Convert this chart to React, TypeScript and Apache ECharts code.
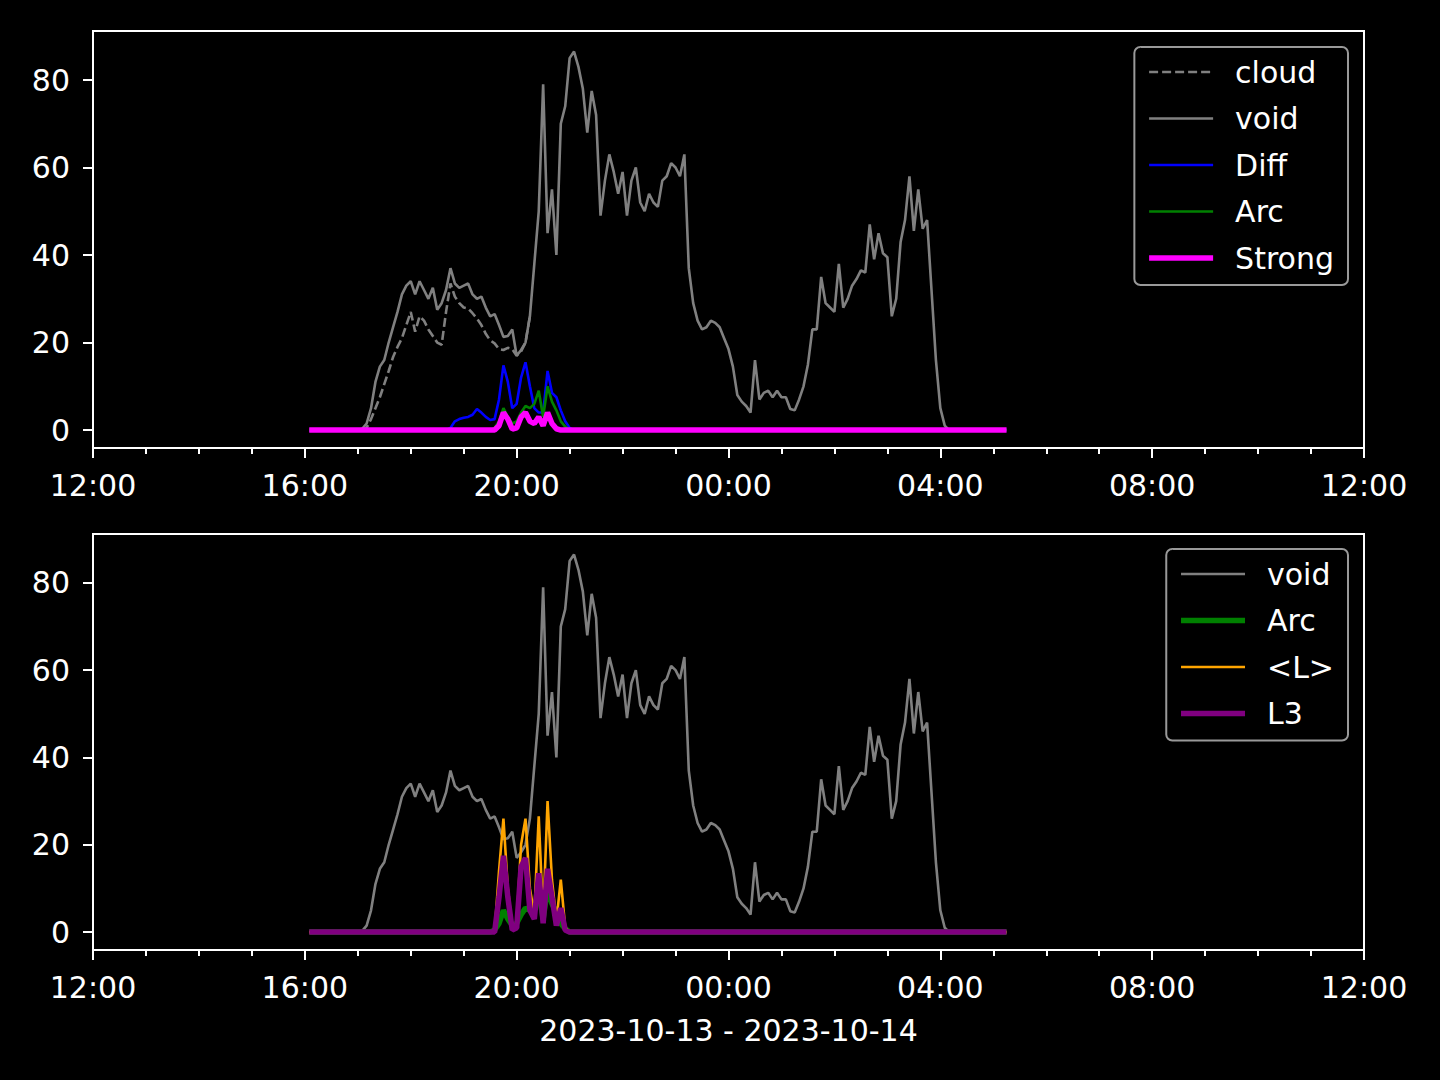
import React, { useEffect, useRef } from "react";
import * as echarts from "echarts";

// Sampling grid: 5-minute samples starting 2023-10-13 16:05
const sampleStartMinutes = 16 * 60 + 5;
const sampleStepMinutes = 5;
const axisStartMinutes = 12 * 60;

const xTickLabels = ["12:00", "16:00", "20:00", "00:00", "04:00", "08:00", "12:00"];
const yTickValues = [0, 20, 40, 60, 80];
const dateLabel = "2023-10-13 - 2023-10-14";

const voidValues = [
  0, 0, 0, 0, 0, 0, 0, 0, 0, 0, 0, 0,
  0.3, 1.5, 5, 11, 14.5, 16, 20, 23.5, 27, 31, 33, 34, 31, 34, 32, 30, 32.5, 27.5,
  29, 32, 37, 33.5, 32.5, 33, 33.5, 31, 30, 30.5, 28, 26, 26.5, 24, 21.3, 21.5, 23, 17, 18.3, 20,
  26, 38, 50, 79, 45, 55, 40, 70, 74, 85, 86.5, 83, 78, 68, 77.5, 72, 49, 57, 63, 59,
  54, 59, 49, 57, 60, 52, 50, 54, 52, 51, 57, 58, 61, 60, 58, 63, 37, 29, 25, 23,
  23.5, 25, 24.5, 23.5, 21, 18.5, 14.5, 8, 6.5, 5.5, 4, 16, 7, 8.5, 9, 7.5, 9, 7.5, 7.5, 4.8,
  4.5, 7, 10, 15, 23, 23, 35, 29, 28, 27, 38, 28, 30, 33, 34.5, 36.5, 36, 47, 39, 45,
  40.4, 39.5, 26, 30, 43, 48, 58, 45.5, 55, 46, 48, 32, 16, 5, 1,
  0, 0, 0, 0, 0, 0, 0, 0, 0, 0, 0, 0, 0, 0,
];

const cloudValues = [
  0, 0, 0, 0, 0, 0, 0, 0, 0, 0, 0, 0, 0,
  0.5, 2.5, 5, 7.5, 10.5, 13.5, 16.7, 19, 21, 24, 27, 22.5, 26, 25, 23, 21.5, 20, 19.5,
  27, 33.5, 30.5, 29, 28, 27.8, 26.7, 25.5, 24, 22, 20.5, 19.8, 18.5, 18.3, 18.8, 18.5, 17, 18, 20, 26,
];

const diffValues = [
  0, 0, 0, 0, 0, 0, 0, 0, 0, 0, 0, 0, 0, 0, 0, 0, 0, 0, 0, 0,
  0, 0, 0, 0, 0, 0, 0, 0, 0, 0, 0, 0,
  0.5, 2, 2.5, 2.8, 3, 3.5, 4.8, 4, 3, 2.3, 2.5, 7, 14.8, 11, 5, 6, 12, 15.5, 10, 5,
  4, 4, 13.5, 8.5, 7.5, 4.5, 2, 0.5,
  0, 0, 0, 0, 0, 0, 0, 0, 0, 0, 0, 0, 0, 0, 0, 0, 0, 0, 0, 0,
  0, 0, 0, 0, 0, 0, 0, 0, 0, 0, 0, 0, 0, 0, 0, 0, 0, 0, 0, 0,
  0, 0, 0, 0, 0, 0, 0, 0, 0, 0, 0, 0, 0, 0, 0, 0, 0, 0, 0, 0,
  0, 0, 0, 0, 0, 0, 0, 0, 0, 0, 0, 0, 0, 0, 0, 0, 0, 0, 0, 0,
  0, 0, 0, 0, 0, 0, 0, 0, 0, 0, 0, 0, 0, 0, 0, 0, 0, 0, 0,
];

const arcValues = [
  0, 0, 0, 0, 0, 0, 0, 0, 0, 0, 0, 0, 0, 0, 0, 0, 0, 0, 0, 0,
  0, 0, 0, 0, 0, 0, 0, 0, 0, 0, 0, 0, 0, 0, 0, 0, 0, 0, 0, 0,
  0, 0,
  0.5, 2, 5, 3, 1.5, 2, 4, 5.5, 5, 6, 9, 3, 10, 6.5, 4.5, 2, 0.8,
  0, 0, 0, 0, 0, 0, 0, 0, 0, 0, 0, 0, 0, 0, 0, 0, 0, 0, 0, 0,
  0, 0, 0, 0, 0, 0, 0, 0, 0, 0, 0, 0, 0, 0, 0, 0, 0, 0, 0, 0,
  0, 0, 0, 0, 0, 0, 0, 0, 0, 0, 0, 0, 0, 0, 0, 0, 0, 0, 0, 0,
  0, 0, 0, 0, 0, 0, 0, 0, 0, 0, 0, 0, 0, 0, 0, 0, 0, 0, 0, 0,
  0, 0, 0, 0, 0, 0, 0, 0, 0, 0, 0, 0, 0, 0, 0, 0, 0, 0, 0, 0,
];

const strongValues = [
  0, 0, 0, 0, 0, 0, 0, 0, 0, 0, 0, 0, 0, 0, 0, 0, 0, 0, 0, 0,
  0, 0, 0, 0, 0, 0, 0, 0, 0, 0, 0, 0, 0, 0, 0, 0, 0, 0, 0, 0,
  0, 0, 0,
  1, 4, 2.5, 0.2, 0.5, 3, 4, 2, 1.5, 3, 1, 4, 1.5, 0.3,
  0, 0, 0, 0, 0, 0, 0, 0, 0, 0, 0, 0, 0, 0, 0, 0, 0, 0, 0, 0,
  0, 0, 0, 0, 0, 0, 0, 0, 0, 0, 0, 0, 0, 0, 0, 0, 0, 0, 0, 0,
  0, 0, 0, 0, 0, 0, 0, 0, 0, 0, 0, 0, 0, 0, 0, 0, 0, 0, 0, 0,
  0, 0, 0, 0, 0, 0, 0, 0, 0, 0, 0, 0, 0, 0, 0, 0, 0, 0, 0, 0,
  0, 0, 0, 0, 0, 0, 0, 0, 0, 0, 0, 0, 0, 0, 0, 0, 0, 0, 0, 0,
  0, 0,
];

const lMeanValues = [
  0, 0, 0, 0, 0, 0, 0, 0, 0, 0, 0, 0, 0, 0, 0, 0, 0, 0, 0, 0,
  0, 0, 0, 0, 0, 0, 0, 0, 0, 0, 0, 0, 0, 0, 0, 0, 0, 0, 0, 0,
  0, 0, 0,
  14, 26, 10, 1, 2, 20, 26, 10, 4, 26.5, 3, 30, 12, 2.5, 12, 1,
  0, 0, 0, 0, 0, 0, 0, 0, 0, 0, 0, 0, 0, 0, 0, 0, 0, 0, 0, 0,
  0, 0, 0, 0, 0, 0, 0, 0, 0, 0, 0, 0, 0, 0, 0, 0, 0, 0, 0, 0,
  0, 0, 0, 0, 0, 0, 0, 0, 0, 0, 0, 0, 0, 0, 0, 0, 0, 0, 0, 0,
  0, 0, 0, 0, 0, 0, 0, 0, 0, 0, 0, 0, 0, 0, 0, 0, 0, 0, 0, 0,
  0, 0, 0, 0, 0, 0, 0, 0, 0, 0, 0, 0, 0, 0, 0, 0, 0, 0, 0, 0,
];

const l3Values = [
  0, 0, 0, 0, 0, 0, 0, 0, 0, 0, 0, 0, 0, 0, 0, 0, 0, 0, 0, 0,
  0, 0, 0, 0, 0, 0, 0, 0, 0, 0, 0, 0, 0, 0, 0, 0, 0, 0, 0, 0,
  0, 0, 0,
  8, 17.5, 8, 0.5, 1, 15, 17, 5, 3, 13.5, 2, 14.5, 8, 1.5, 5.5, 0.5,
  0, 0, 0, 0, 0, 0, 0, 0, 0, 0, 0, 0, 0, 0, 0, 0, 0, 0, 0, 0,
  0, 0, 0, 0, 0, 0, 0, 0, 0, 0, 0, 0, 0, 0, 0, 0, 0, 0, 0, 0,
  0, 0, 0, 0, 0, 0, 0, 0, 0, 0, 0, 0, 0, 0, 0, 0, 0, 0, 0, 0,
  0, 0, 0, 0, 0, 0, 0, 0, 0, 0, 0, 0, 0, 0, 0, 0, 0, 0, 0, 0,
  0, 0, 0, 0, 0, 0, 0, 0, 0, 0, 0, 0, 0, 0, 0, 0, 0, 0, 0, 0,
];

const GREY = "#808080";
const BLUE = "#0000ff";
const GREEN = "#008000";
const MAGENTA = "#ff00ff";
const ORANGE = "#ffa500";
const PURPLE = "#800080";
const FONT = "DejaVu Sans";
const THIN = 2.6;
const THICK = 5.5;
const DASH = [9, 4];

function toPairs(values: number[]) {
  return values.map((v, i) => [
    (sampleStartMinutes + i * sampleStepMinutes - axisStartMinutes) / 60,
    v,
  ]);
}

const axisText = { color: "#fff", fontSize: 30, fontFamily: FONT };
const whiteLine = { color: "#fff", width: 2 };

function xAxisCfg(gridIndex: number, name?: string) {
  return {
    type: "value",
    gridIndex,
    min: 0,
    max: 24,
    interval: 4,
    axisLine: { show: true, onZero: false, lineStyle: whiteLine },
    axisTick: { show: true, length: 10, lineStyle: whiteLine },
    minorTick: { show: true, splitNumber: 4, length: 6, lineStyle: whiteLine },
    splitLine: { show: false },
    minorSplitLine: { show: false },
    axisLabel: {
      ...axisText,
      margin: 22,
      formatter: (v: number) => xTickLabels[Math.round(v / 4)] ?? "",
    },
    name: name ?? "",
    nameLocation: "middle",
    nameGap: 65,
    nameTextStyle: { ...axisText, verticalAlign: "top" },
  };
}

function yAxisCfg(gridIndex: number) {
  return {
    type: "value",
    gridIndex,
    min: -4.1,
    max: 91.2,
    axisLine: { show: true, onZero: false, lineStyle: whiteLine },
    axisTick: { show: true, length: 10, lineStyle: whiteLine, customValues: yTickValues },
    splitLine: { show: false },
    axisLabel: { ...axisText, margin: 23, customValues: yTickValues },
  };
}

function line(name: string, values: number[], color: string, width: number, idx: number, dashed = false) {
  return {
    type: "line",
    name,
    xAxisIndex: idx,
    yAxisIndex: idx,
    data: toPairs(values),
    symbol: "none",
    showSymbol: false,
    lineStyle: { color, width, type: dashed ? DASH : "solid" },
    itemStyle: { color },
    emphasis: { disabled: true },
  };
}

function legendCfg(top: number, items: any[]) {
  return {
    orient: "vertical",
    right: 92,
    top,
    itemWidth: 64,
    itemHeight: 14,
    itemGap: 16.5,
    padding: [10, 14, 12, 12],
    backgroundColor: "#000",
    borderColor: "#999",
    borderWidth: 2,
    borderRadius: 6,
    selectedMode: false,
    itemStyle: { opacity: 0 },
    textStyle: { color: "#fff", fontSize: 30, fontFamily: FONT, lineHeight: 30, padding: [0, 0, 0, 17] },
    data: items,
  };
}

export default function App() {
  const ref = useRef<HTMLDivElement>(null);
  useEffect(() => {
    if (!ref.current) return;
    const chart = echarts.init(ref.current, undefined, { renderer: "svg" });
    chart.setOption({
      animation: false,
      backgroundColor: "#000",
      textStyle: { fontFamily: FONT },
      grid: [
        { left: 93, top: 31, width: 1271, height: 417, show: true, borderColor: "#fff", borderWidth: 2, backgroundColor: "transparent" },
        { left: 93, top: 534, width: 1271, height: 416, show: true, borderColor: "#fff", borderWidth: 2, backgroundColor: "transparent" },
      ],
      xAxis: [xAxisCfg(0), xAxisCfg(1, dateLabel)],
      yAxis: [yAxisCfg(0), yAxisCfg(1)],
      legend: [
        legendCfg(47, [
          { name: "cloud", lineStyle: { color: GREY, width: THIN, type: DASH } },
          { name: "void", lineStyle: { color: GREY, width: THIN, type: "solid" } },
          { name: "Diff", lineStyle: { color: BLUE, width: THIN, type: "solid" } },
          { name: "Arc", lineStyle: { color: GREEN, width: THIN, type: "solid" } },
          { name: "Strong", lineStyle: { color: MAGENTA, width: THICK, type: "solid" } },
        ]),
        legendCfg(549, [
          { name: "void", lineStyle: { color: GREY, width: THIN, type: "solid" } },
          { name: "Arc", lineStyle: { color: GREEN, width: THICK, type: "solid" } },
          { name: "<L>", lineStyle: { color: ORANGE, width: THIN, type: "solid" } },
          { name: "L3", lineStyle: { color: PURPLE, width: THICK, type: "solid" } },
        ]),
      ],
      series: [
        line("cloud", cloudValues, GREY, THIN, 0, true),
        line("void", voidValues, GREY, THIN, 0),
        line("Diff", diffValues, BLUE, THIN, 0),
        line("Arc", arcValues, GREEN, THIN, 0),
        line("Strong", strongValues, MAGENTA, THICK, 0),
        line("void", voidValues, GREY, THIN, 1),
        line("Arc", arcValues, GREEN, THICK, 1),
        line("<L>", lMeanValues, ORANGE, THIN, 1),
        line("L3", l3Values, PURPLE, THICK, 1),
      ],
    });
    return () => chart.dispose();
  }, []);
  return (
    <div
      ref={ref}
      style={{ position: "fixed", left: 0, top: 0, width: 1440, height: 1080, background: "#000" }}
    />
  );
}
